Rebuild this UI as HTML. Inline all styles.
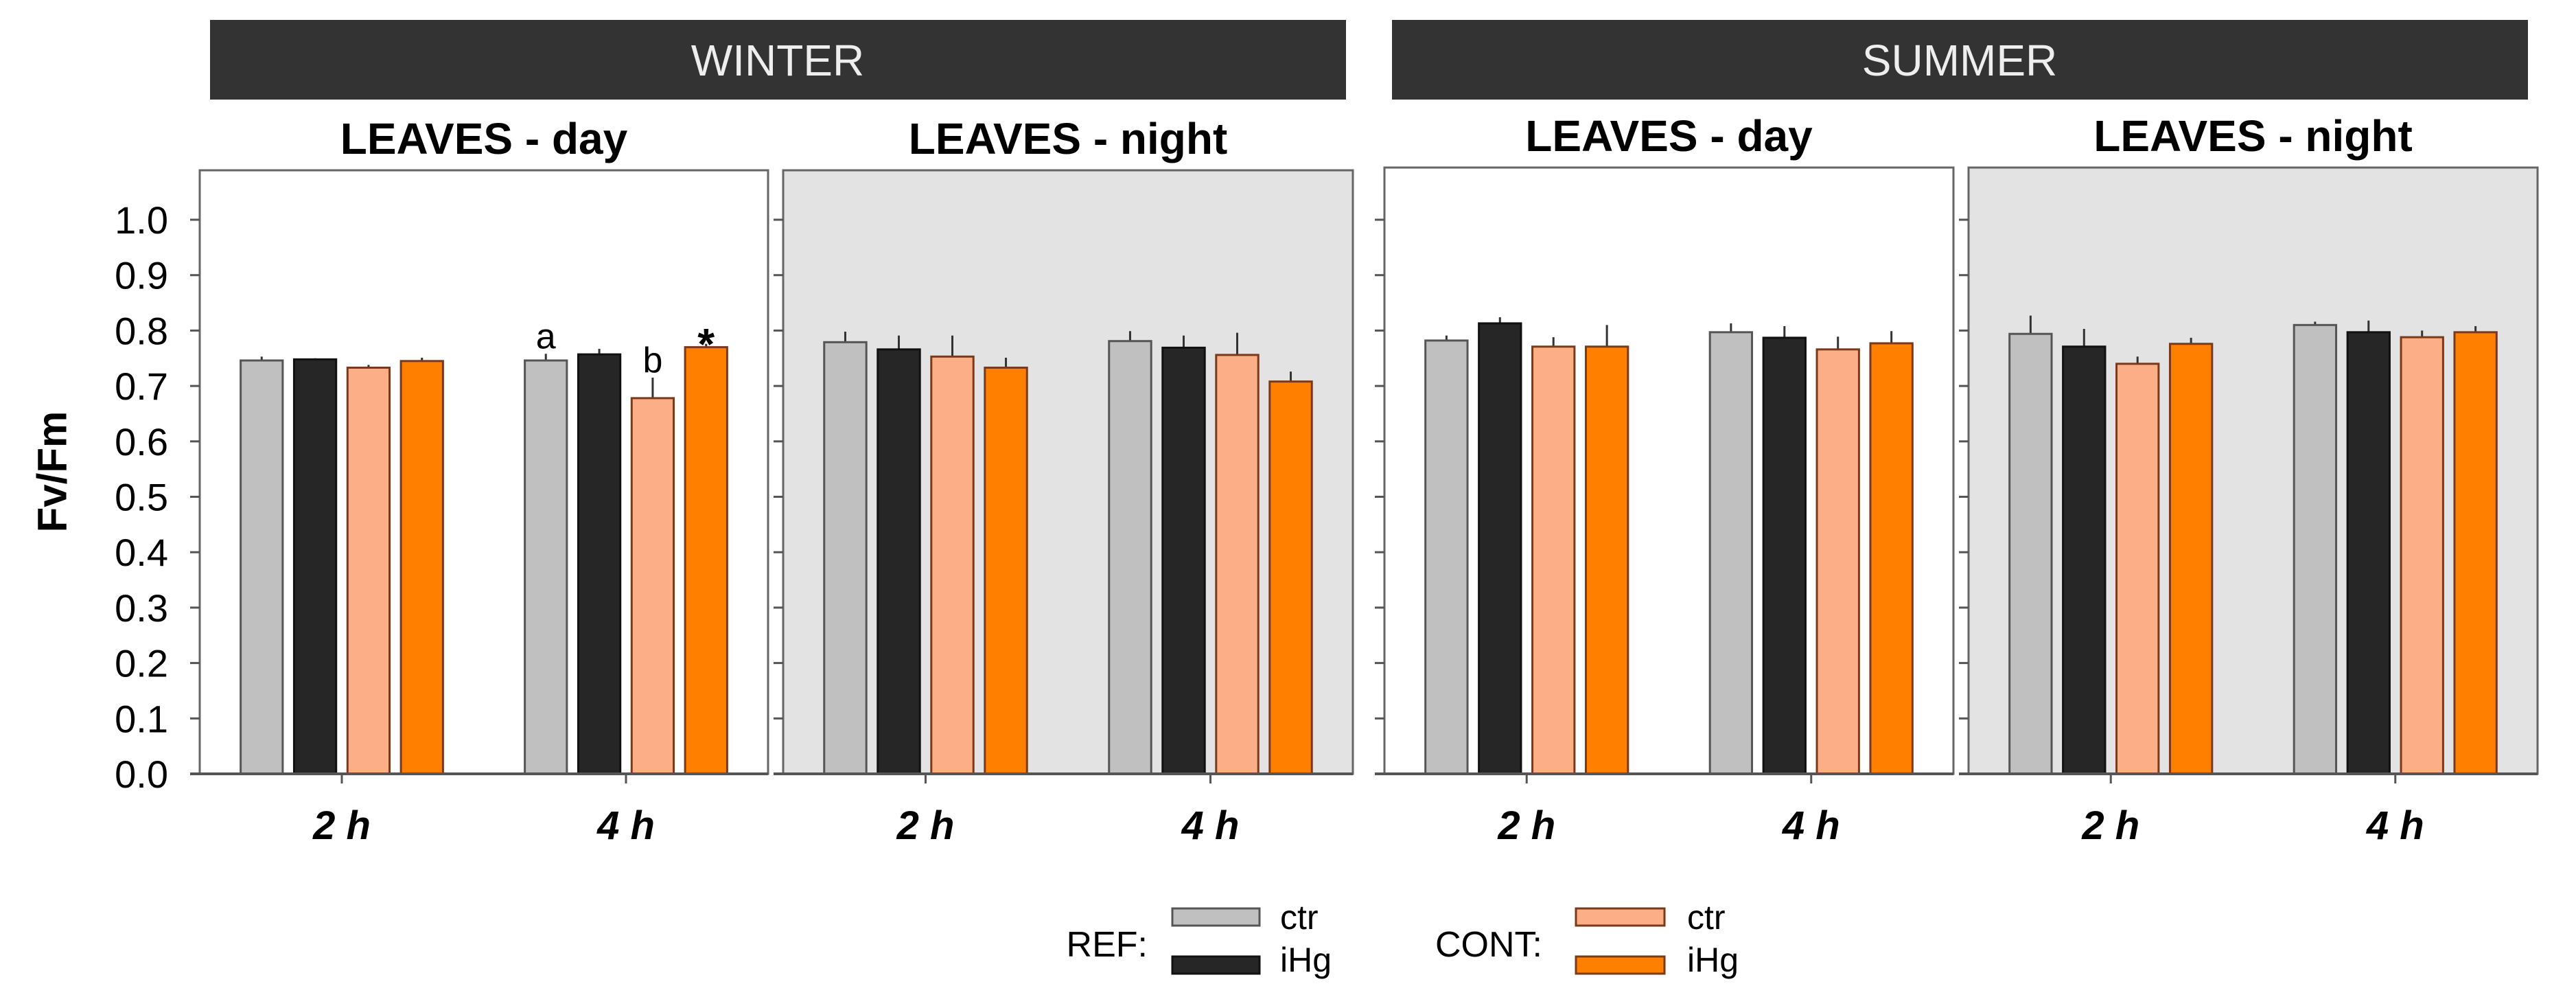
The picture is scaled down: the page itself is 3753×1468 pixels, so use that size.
<!DOCTYPE html>
<html><head><meta charset="utf-8"><style>
html,body{margin:0;padding:0;background:#fff;}
svg{display:block;font-family:"Liberation Sans",Arial,sans-serif;}
</style></head><body>
<svg id="chart" width="3753" height="1468" viewBox="0 0 3753 1468" xmlns="http://www.w3.org/2000/svg">
<rect x="306" y="29" width="1655" height="116" fill="#333333"/>
<text x="1133" y="110" text-anchor="middle" font-size="64" fill="#eeeeee">WINTER</text>
<rect x="2028" y="29" width="1655" height="116" fill="#333333"/>
<text x="2855" y="110" text-anchor="middle" font-size="64" fill="#eeeeee">SUMMER</text>
<text x="76" y="687" transform="rotate(-90 76 687)" text-anchor="middle" dominant-baseline="central" font-size="60" font-weight="bold">Fv/Fm</text>
<g id="panels"></g>
<g id="legend">
<text x="1672" y="1393" text-anchor="end" font-size="52">REF:</text>
<rect x="1708" y="1323" width="127" height="25" fill="#c0c0c0" stroke="#555" stroke-width="3"/>
<text x="1865" y="1353" font-size="50">ctr</text>
<rect x="1708" y="1393" width="127" height="25" fill="#262626" stroke="#111" stroke-width="3"/>
<text x="1865" y="1415" font-size="50">iHg</text>
<text x="2247" y="1393" text-anchor="end" font-size="52">CONT:</text>
<rect x="2296" y="1323" width="129" height="25" fill="#fcaf86" stroke="#7a3a1a" stroke-width="3"/>
<text x="2458" y="1353" font-size="50">ctr</text>
<rect x="2296" y="1393" width="129" height="25" fill="#ff8000" stroke="#7a3a1a" stroke-width="3"/>
<text x="2458" y="1415" font-size="50">iHg</text>
</g>
</svg>
<script>
const categories = ["2 h", "4 h"];
const seriesNames = ["REF ctr", "REF iHg", "CONT ctr", "CONT iHg"];
const panelTitles = ["LEAVES - day", "LEAVES - night", "LEAVES - day", "LEAVES - night"];
const yTicks = [0.0, 0.1, 0.2, 0.3, 0.4, 0.5, 0.6, 0.7, 0.8, 0.9, 1.0];
const yTickLabels = ["0.0","0.1","0.2","0.3","0.4","0.5","0.6","0.7","0.8","0.9","1.0"];
// values[panel][category][series]
const winterDay = [[0.746, 0.748, 0.733, 0.745], [0.746, 0.757, 0.678, 0.770]];
const winterDayErr = [[0.007, 0.002, 0.005, 0.006], [0.012, 0.010, 0.037, 0.006]];
const winterNight = [[0.779, 0.766, 0.753, 0.733], [0.781, 0.769, 0.756, 0.708]];
const winterNightErr = [[0.019, 0.025, 0.038, 0.018], [0.018, 0.022, 0.040, 0.018]];
const summerDay = [[0.782, 0.813, 0.771, 0.771], [0.797, 0.787, 0.766, 0.777]];
const summerDayErr = [[0.009, 0.011, 0.017, 0.039], [0.016, 0.021, 0.023, 0.022]];
const summerNight = [[0.794, 0.771, 0.740, 0.776], [0.810, 0.797, 0.788, 0.797]];
const summerNightErr = [[0.033, 0.032, 0.013, 0.011], [0.006, 0.021, 0.012, 0.011]];
const annotations = [{panel:0, cat:1, series:0, text:"a", size:52, bold:false},
                     {panel:0, cat:1, series:2, text:"b", size:52, bold:false},
                     {panel:0, cat:1, series:3, text:"*", size:64, bold:true}];

const NS = "http://www.w3.org/2000/svg";
const panelsG = document.getElementById("panels");
const panelData = [winterDay, winterNight, summerDay, summerNight];
const panelErr = [winterDayErr, winterNightErr, summerDayErr, summerNightErr];
const panelNames = ["winter-day", "winter-night", "summer-day", "summer-night"];
const panelBox = [{x0:291,x1:1119,top:248,bg:"#ffffff"},{x0:1141,x1:1971,top:248,bg:"#e3e3e3"},
                  {x0:2017,x1:2846,top:244,bg:"#ffffff"},{x0:2868,x1:3697,top:244,bg:"#e3e3e3"}];
const fills = ["#c0c0c0", "#262626", "#fcaf86", "#ff8000"];
const strokes = ["#555555", "#111111", "#7a3a1a", "#7a3a1a"];
const Y0 = 1127, Y1 = 320;
function yScale(v){ return Y0 - (Y0 - Y1) * v; }
function mk(tag, attrs){ const e = document.createElementNS(NS, tag); for (const k in attrs) e.setAttribute(k, attrs[k]); return e; }

panelBox.forEach((pb, p) => {
  const w = pb.x1 - pb.x0;
  const g = mk("g", {});
  
  
  panelsG.appendChild(g);
  const bg = mk("rect", {x:pb.x0, y:pb.top, width:w, height:Y0-pb.top, fill:pb.bg, stroke:"#666", "stroke-width":3});
  
  
  g.appendChild(bg);
  const title = mk("text", {x:(pb.x0+pb.x1)/2, y:pb.top-24, "text-anchor":"middle", "font-size":64, "font-weight":"bold"});
  title.textContent = panelTitles[p];
  
  
  g.appendChild(title);
  yTicks.forEach((t, i) => {
    const tk = mk("line", {x1:pb.x0-14, x2:pb.x0, y1:yScale(t), y2:yScale(t), stroke:"#555", "stroke-width":3});
    
    
    g.appendChild(tk);
    if (p === 0) {
      const lb = mk("text", {x:245, y:yScale(t)+20, "text-anchor":"end", "font-size":56});
      lb.textContent = yTickLabels[i];
      
      
      g.appendChild(lb);
    }
  });
  categories.forEach((c, ci) => {
    const cx = pb.x0 + w * (0.25 + 0.5 * ci);
    const tk = mk("line", {x1:cx, x2:cx, y1:Y0, y2:Y0+14, stroke:"#555", "stroke-width":3});
    
    
    g.appendChild(tk);
    const lb = mk("text", {x:cx, y:1222, "text-anchor":"middle", "font-size":58, "font-weight":"bold", "font-style":"italic"});
    lb.textContent = c;
    
    
    g.appendChild(lb);
    seriesNames.forEach((s, si) => {
      const v = panelData[p][ci][si], e = panelErr[p][ci][si];
      const bw = w * 0.074, bc = cx + (si - 1.5) * w * 0.094;
      const er = mk("line", {x1:bc, x2:bc, y1:yScale(v), y2:yScale(v+e), stroke:"#333", "stroke-width":3});
      
      
      g.appendChild(er);
      const r = mk("rect", {x:bc-bw/2, y:yScale(v), width:bw, height:Y0-yScale(v), fill:fills[si], stroke:strokes[si], "stroke-width":3});
      
      
      g.appendChild(r);
    });
  });
  const ax = mk("line", {x1:pb.x0-14, x2:pb.x1, y1:Y0, y2:Y0, stroke:"#555", "stroke-width":4});
  
  
  g.appendChild(ax);
});
annotations.forEach(a => {
  const pb = panelBox[a.panel], w = pb.x1 - pb.x0;
  const cx = pb.x0 + w * (0.25 + 0.5 * a.cat) + (a.series - 1.5) * w * 0.094;
  const top = panelData[a.panel][a.cat][a.series] + panelErr[a.panel][a.cat][a.series];
  const t = mk("text", {x:cx, y:yScale(top) - (a.bold ? -22 : 8), "text-anchor":"middle", "font-size":a.size, "font-weight":a.bold ? "bold" : "normal"});
  t.textContent = a.text;
  
  
  panelsG.appendChild(t);
});
</script>
</body></html>
